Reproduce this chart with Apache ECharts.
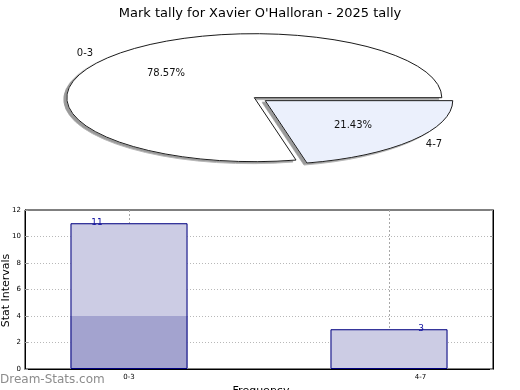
<!DOCTYPE html>
<html><head><meta charset="utf-8">
<script src="https://cdn.jsdelivr.net/npm/echarts@6/dist/echarts.min.js"></script>
<style>
html,body{margin:0;padding:0;background:#fff;}
#wrap{position:relative;width:520px;height:390px;overflow:hidden;}
#pie{position:absolute;left:0;top:26px;width:520px;height:420px;z-index:0;}
#pie svg{height:143.35px !important;}
#pie svg path{vector-effect:non-scaling-stroke;}
#main{position:absolute;left:0;top:0;width:520px;height:390px;z-index:1;}
</style></head>
<body>
<div id="wrap"><div id="pie"></div><div id="main"></div></div>
<script>
// ---- data ----
var titleText = "Mark tally for Xavier O'Halloran - 2025 tally";
var categories = ['0-3', '4-7'];
var tallies = [11, 3];
var lowerPart = [4, 0];
var yMin = 0, yMax = 12, yStep = 2;
var yAxisName = 'Stat Intervals';
var xAxisName = 'Frequency';
var watermark = 'Dream-Stats.com';

// ---- layout helpers (not data) ----
var slotCount = 10;
var slotIndex = [2, 7];
var valueLabelOffset = [[-32, 4], [32, 4]];
var tickLabelPad = [0, 63];
var sliceColors = ['#ffffff', '#ebf0fc'];
var pieLabelPos = [[85, 53], [434, 144]];
var pctLabelPos = [[166, 73], [353, 125]];

var total = tallies.reduce(function (a, b) { return a + b; }, 0);

// ---- pie (elliptical, via SVG squash) ----
var pieChart = echarts.init(document.getElementById('pie'), null, { renderer: 'svg' });
var firstShare = tallies[0] / total * 360;
pieChart.setOption({
  animation: false,
  backgroundColor: 'transparent',
  series: [{
    type: 'pie',
    center: [254.3, 210],
    radius: 187.5,
    startAngle: firstShare,
    clockwise: true,
    selectedMode: 'single',
    selectedOffset: 14,
    silent: true,
    label: { show: false },
    labelLine: { show: false },
    emphasis: { disabled: true },
    data: categories.map(function (c, i) {
      var st = {
        color: sliceColors[i], borderColor: '#1a1a1a', borderWidth: 1,
        shadowColor: '#9a9a9a', shadowBlur: 0, shadowOffsetX: -3, shadowOffsetY: 5
      };
      return { name: c, value: tallies[i], selected: i === 1, itemStyle: st, select: { itemStyle: st } };
    })
  }]
});
var svg = document.querySelector('#pie svg');
if (svg) {
  if (!svg.getAttribute('viewBox')) svg.setAttribute('viewBox', '0 0 520 420');
  svg.setAttribute('preserveAspectRatio', 'none');
}

// ---- bar chart + texts ----
var chart = echarts.init(document.getElementById('main'));
var slotCats = [];
var lightData = [], darkData = [], edgeData = [];
for (var s = 0; s < slotCount; s++) { slotCats.push(''); lightData.push(null); darkData.push(null); edgeData.push(null); }
categories.forEach(function (c, i) {
  var k = slotIndex[i];
  slotCats[k] = c;
  lightData[k] = tallies[i];
  darkData[k] = lowerPart[i];
  edgeData[k] = { value: tallies[i], label: { offset: valueLabelOffset[i] } };
});
var isSlot = function (idx) { return slotIndex.indexOf(idx) >= 0; };

var font = 'DejaVu Sans';
var graphics = [];
categories.forEach(function (c, i) {
  graphics.push({ type: 'text', silent: true, style: { text: c, x: pieLabelPos[i][0], y: pieLabelPos[i][1], align: 'center', verticalAlign: 'middle', font: '10px "DejaVu Sans"', fill: '#111' } });
  graphics.push({ type: 'text', silent: true, style: { text: (tallies[i] / total * 100).toFixed(2) + '%', x: pctLabelPos[i][0], y: pctLabelPos[i][1], align: 'center', verticalAlign: 'middle', font: '10px "DejaVu Sans"', fill: '#111' } });
});
graphics.push({ type: 'text', silent: true, style: { text: watermark, x: 0, y: 380, align: 'left', verticalAlign: 'middle', font: '12px "DejaVu Sans"', fill: '#8c8c8c' } });
graphics.push({ type: 'text', silent: true, x: 6, y: 290.5, rotation: Math.PI / 2, style: { text: yAxisName, x: 0, y: 0, align: 'center', verticalAlign: 'middle', font: '11px "DejaVu Sans"', fill: '#000' } });
graphics.push({ type: 'text', silent: true, style: { text: xAxisName, x: 261, y: 391, align: 'center', verticalAlign: 'middle', font: '11px "DejaVu Sans"', fill: '#000' } });

chart.setOption({
  animation: false,
  backgroundColor: 'transparent',
  textStyle: { fontFamily: font },
  title: { text: titleText, left: 'center', top: 2, textStyle: { fontSize: 13, fontWeight: 'normal', color: '#000', fontFamily: font } },
  graphic: graphics,
  grid: { left: 25, right: 27, top: 210, bottom: 21, show: true, borderColor: '#000', borderWidth: 1, backgroundColor: 'transparent', containLabel: false, outerBoundsMode: 'none' },
  xAxis: {
    type: 'category', data: slotCats, boundaryGap: false,
    axisLine: { show: true, lineStyle: { color: '#000', width: 1 } },
    axisTick: { show: false },
    axisLabel: {
      interval: function (idx) { return isSlot(idx); },
      margin: 5, fontSize: 7, color: '#000', fontFamily: font,
      formatter: function (v) { var i = categories.indexOf(v); return i === 1 ? '{p|' + v + '}' : v; },
      rich: { p: { fontSize: 7, color: '#000', fontFamily: font, padding: [0, 0, 0, tickLabelPad[1]] } }
    },
    splitLine: { show: true, interval: function (idx) { return isSlot(idx); }, lineStyle: { color: '#a8a8a8', type: [2, 2], width: 1 } }
  },
  yAxis: [{
    type: 'value', min: yMin, max: yMax, interval: yStep,
    axisLine: { show: true, lineStyle: { color: '#000', width: 1 } },
    axisTick: { show: true, inside: true, length: 3, lineStyle: { color: '#999' } },
    axisLabel: { fontSize: 7, color: '#000', margin: 4, fontFamily: font },
    splitLine: { show: true, showMinLine: false, showMaxLine: false, lineStyle: { color: '#b8b8b8', type: [1, 2], width: 1 } }
  }, {
    type: 'value', min: yMin, max: yMax, interval: yStep, position: 'right',
    axisLine: { show: true, lineStyle: { color: '#000', width: 1 } },
    axisTick: { show: true, inside: true, length: 3, lineStyle: { color: '#999' } },
    axisLabel: { show: false }, splitLine: { show: false }
  }],
  series: [
    { type: 'bar', data: lightData, barWidth: 117, barGap: '-100%', itemStyle: { color: '#ccccE4' }, silent: true, z: 2 },
    { type: 'bar', data: darkData, barWidth: 117, barGap: '-100%', itemStyle: { color: '#a3a3cf' }, silent: true, z: 3 },
    { type: 'bar', data: edgeData, barWidth: 117, barGap: '-100%', silent: true, z: 4,
      itemStyle: { color: 'rgba(0,0,0,0)', borderColor: '#000080', borderWidth: 1 },
      label: { show: true, position: 'top', distance: 0, fontSize: 9, color: '#1010a0', fontFamily: font } }
  ]
});
</script>
</body></html>
